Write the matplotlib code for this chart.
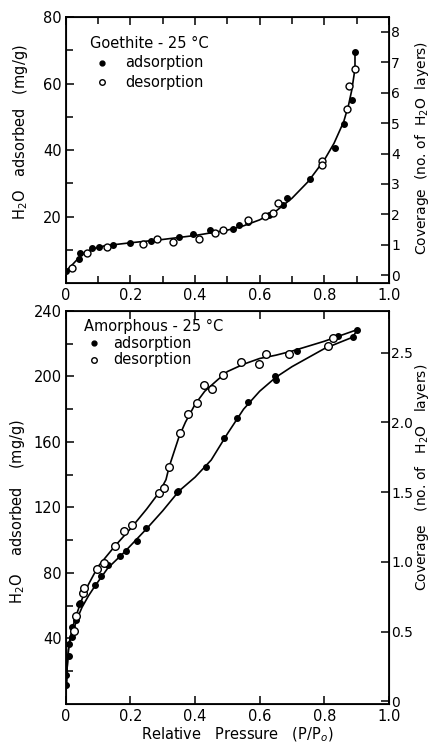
import matplotlib
matplotlib.use("Agg")
import matplotlib.pyplot as plt

# ---- Goethite (top panel) ----
goe_ads_p = [0.0, 0.040, 0.043, 0.080, 0.103, 0.145, 0.200, 0.263, 0.350, 0.393, 0.446,
             0.518, 0.537, 0.565, 0.630, 0.671, 0.685, 0.757, 0.833, 0.862, 0.885, 0.895]
goe_ads_w = [3.7, 7.1, 8.9, 10.4, 10.9, 11.4, 12.1, 12.6, 13.9, 14.6, 15.9,
             16.2, 17.3, 18.4, 20.4, 23.5, 25.5, 31.3, 40.6, 47.7, 54.9, 69.6]
goe_des_p = [0.018, 0.064, 0.126, 0.238, 0.281, 0.331, 0.412, 0.461, 0.487, 0.565,
             0.616, 0.642, 0.658, 0.792, 0.792, 0.869, 0.877, 0.895]
goe_des_w = [4.6, 8.9, 10.7, 11.6, 13.1, 12.4, 13.2, 14.9, 15.9, 18.9,
             20.2, 21.0, 24.0, 36.8, 35.4, 52.2, 59.2, 64.5]
# drawn curve
goe_curve_p = [0.0, 0.02, 0.05, 0.08, 0.12, 0.2, 0.3, 0.4, 0.5, 0.55, 0.6, 0.65, 0.7,
               0.75, 0.8, 0.83, 0.86, 0.875, 0.885, 0.892, 0.895, 0.895]
goe_curve_w = [3.5, 5.5, 8.6, 10.2, 11.2, 12.1, 13.1, 14.3, 15.9, 17.2, 19.0, 21.6, 25.5,
               30.5, 37.0, 42.0, 48.5, 53.5, 58.0, 62.5, 65.0, 69.6]

# ---- Amorphous (bottom panel) ----
am_ads_p = [0.002, 0.002, 0.010, 0.010, 0.020, 0.020, 0.033, 0.040, 0.045, 0.090, 0.110,
            0.131, 0.169, 0.186, 0.219, 0.248, 0.343, 0.347, 0.433, 0.490, 0.531, 0.565,
            0.647, 0.650, 0.714, 0.841, 0.888, 0.902]
am_ads_w = [11.7, 17.4, 29.0, 36.5, 41.1, 46.8, 51.0, 61.0, 61.5, 72.5, 78.2,
            84.7, 90.2, 93.6, 99.3, 107.4, 129.3, 130.3, 144.5, 162.3, 174.9, 184.4,
            200.6, 197.8, 215.8, 224.9, 224.1, 228.6]
am_des_p = [0.026, 0.031, 0.054, 0.057, 0.098, 0.119, 0.152, 0.181, 0.206, 0.287, 0.304,
            0.318, 0.353, 0.379, 0.407, 0.428, 0.451, 0.485, 0.541, 0.598, 0.621, 0.691,
            0.812, 0.828]
am_des_w = [44.8, 54.0, 67.5, 71.0, 82.3, 86.3, 96.4, 105.4, 109.0, 128.7, 131.9,
            144.5, 165.2, 176.9, 184.0, 194.5, 192.5, 201.2, 208.9, 207.7, 213.8, 214.0,
            218.4, 223.7]
am_lo_curve_p = [0.0015, 0.004, 0.008, 0.012, 0.02, 0.035, 0.05, 0.07, 0.09, 0.13, 0.18,
                 0.25, 0.3, 0.35, 0.4, 0.45, 0.5, 0.55, 0.6, 0.65, 0.7, 0.75, 0.8, 0.85,
                 0.888, 0.902]
am_lo_curve_w = [10, 22, 33, 38, 43, 52, 59, 66, 72, 83, 92.5,
                 107, 118, 130, 138.5, 149, 165, 180, 191, 199.5, 206, 211.5, 217, 221,
                 224, 228.6]
am_hi_curve_p = [0.0015, 0.004, 0.008, 0.012, 0.02, 0.03, 0.05, 0.07, 0.1, 0.15, 0.2,
                 0.25, 0.29, 0.31, 0.32, 0.33, 0.35, 0.37, 0.4, 0.43, 0.47, 0.5, 0.55,
                 0.6, 0.65, 0.7, 0.75, 0.8, 0.85, 0.902]
am_hi_curve_w = [10, 22, 33, 39, 46, 53, 64, 73, 84, 96, 107,
                 119, 129.5, 137, 145, 151, 163, 172, 183, 191, 198, 203, 207.5,
                 211, 213, 215.5, 218.5, 221.5, 225, 228.6]

xtick_vals = [0, 0.2, 0.4, 0.6, 0.8, 1.0]
xtick_labels = ['0', '0.2', '0.4', '0.6', '0.8', '1.0']

plt.rcParams['font.family'] = 'DejaVu Sans'
plt.rcParams['font.size'] = 10.5

fig = plt.figure(figsize=(4.36, 7.44), dpi=100)

def style_axes(ax, right):
    for s in ax.spines.values():
        s.set_linewidth(1.3)
    ax.tick_params(direction='in', which='both', top=True, width=1.1)
    ax.tick_params(which='major', length=6)
    ax.tick_params(which='minor', length=5)
    ax.tick_params(axis='y', pad=3)
    right.tick_params(direction='in', which='both', length=6, width=1.1, pad=1.5,
                      labelsize=10)

def draw_legend(ax, title, x0, y0, dx, dy):
    ax.text(x0, y0, title, transform=ax.transAxes, va='center', ha='left')
    ax.plot([x0 + dx * 0.35], [y0 - dy], 'o', color='k', ms=3.5, transform=ax.transAxes)
    ax.text(x0 + dx, y0 - dy, 'adsorption', transform=ax.transAxes, va='center')
    ax.plot([x0 + dx * 0.35], [y0 - 2 * dy], 'o', mfc='white', mec='k', ms=4, mew=1,
            transform=ax.transAxes)
    ax.text(x0 + dx, y0 - 2 * dy, 'desorption', transform=ax.transAxes, va='center')

# top panel
ax1 = fig.add_axes([0.151, 0.6196, 0.741, 0.3575])
ax1.plot(goe_curve_p, goe_curve_w, color='k', lw=1.2)
ax1.plot(goe_ads_p, goe_ads_w, 'o', color='k', ms=4)
ax1.plot(goe_des_p, goe_des_w, 'o', mfc='white', mec='k', ms=5, mew=1)
ax1.set_xlim(0, 1.0)
ax1.set_ylim(0, 80)
ax1.set_xticks(xtick_vals)
ax1.set_xticklabels(xtick_labels)
ax1.set_xticks([0.1, 0.3, 0.5, 0.7, 0.9], minor=True)
ax1.set_yticks([20, 40, 60, 80])
ax1.set_yticks([10, 30, 50, 70], minor=True)
r1 = ax1.twinx()
r1.set_ylim(-0.26, 8.49)
r1.set_yticks(range(0, 9))
style_axes(ax1, r1)
draw_legend(ax1, 'Goethite - 25 °C', 0.074, 0.902, 0.11, 0.074)

# bottom panel
ax2 = fig.add_axes([0.151, 0.0538, 0.741, 0.5282])
ax2.plot(am_lo_curve_p, am_lo_curve_w, color='k', lw=1.2)
ax2.plot(am_hi_curve_p, am_hi_curve_w, color='k', lw=1.2)
ax2.plot(am_ads_p, am_ads_w, 'o', color='k', ms=4)
ax2.plot(am_des_p, am_des_w, 'o', mfc='white', mec='k', ms=5.5, mew=1)
ax2.set_xlim(0, 1.0)
ax2.set_ylim(0, 240)
ax2.set_xticks(xtick_vals)
ax2.set_xticklabels(xtick_labels)
ax2.set_yticks([40, 80, 120, 160, 200, 240])
ax2.set_yticks([20, 60, 100, 140, 180, 220], minor=True)
r2 = ax2.twinx()
r2.set_ylim(-0.02, 2.80)
r2.set_yticks([0, 0.5, 1.0, 1.5, 2.0, 2.5])
r2.set_yticklabels(['0', '0.5', '1.0', '1.5', '2.0', '2.5'])
style_axes(ax2, r2)
draw_legend(ax2, 'Amorphous - 25 °C', 0.056, 0.96, 0.09, 0.042)

# axis titles placed as in the original figure
fig.text(0.046, 0.823, 'H$_2$O   adsorbed   (mg/g)', rotation=90, ha='center', va='center')
fig.text(0.967, 0.801, 'Coverage  (no. of  H$_2$O  layers)', rotation=90,
         ha='center', va='center', fontsize=10)
fig.text(0.040, 0.313, 'H$_2$O    adsorbed    (mg/g)', rotation=90, ha='center', va='center')
fig.text(0.969, 0.358, 'Coverage   (no. of   H$_2$O   layers)', rotation=90,
         ha='center', va='center', fontsize=10)
fig.text(0.544, 0.013, 'Relative   Pressure   (P/P$_o$)', ha='center', va='center')

fig.savefig('out.png', dpi=100)
